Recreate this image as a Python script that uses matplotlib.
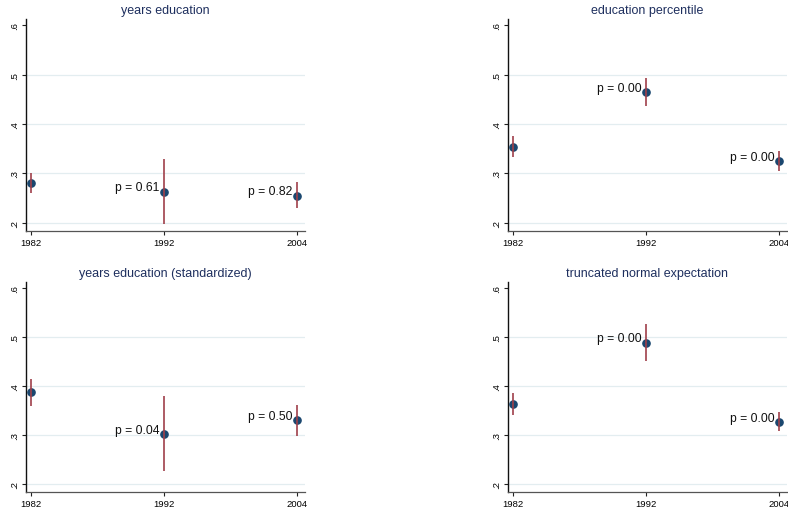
import matplotlib
matplotlib.use('Agg')
import matplotlib.pyplot as plt

plt.rcParams['font.family'] = ['Liberation Sans', 'DejaVu Sans']

years = ['1982', '1992', '2004']

titles = ['years education', 'education percentile',
          'years education (standardized)', 'truncated normal expectation']

# point estimates and confidence bounds per panel
est_yrs = [0.281, 0.263, 0.255]
lo_yrs = [0.261, 0.198, 0.229]
hi_yrs = [0.300, 0.329, 0.282]

est_pct = [0.354, 0.464, 0.325]
lo_pct = [0.333, 0.436, 0.305]
hi_pct = [0.375, 0.493, 0.345]

est_std = [0.387, 0.302, 0.330]
lo_std = [0.359, 0.226, 0.298]
hi_std = [0.414, 0.379, 0.362]

est_tne = [0.363, 0.489, 0.327]
lo_tne = [0.340, 0.452, 0.307]
hi_tne = [0.386, 0.526, 0.346]

# p-values shown next to 1992 and 2004
pvals_yrs = ['p = 0.61', 'p = 0.82']
pvals_pct = ['p = 0.00', 'p = 0.00']
pvals_std = ['p = 0.04', 'p = 0.50']
pvals_tne = ['p = 0.00', 'p = 0.00']

yticks = [0.2, 0.3, 0.4, 0.5, 0.6]
ytick_labels = ['.2', '.3', '.4', '.5', '.6']

panels = [
    (est_yrs, lo_yrs, hi_yrs, pvals_yrs),
    (est_pct, lo_pct, hi_pct, pvals_pct),
    (est_std, lo_std, hi_std, pvals_std),
    (est_tne, lo_tne, hi_tne, pvals_tne),
]

W, H = 788, 510
fig = plt.figure(figsize=(W / 100, H / 100), dpi=100)
fig.patch.set_facecolor('white')

# axes boxes in pixels: left, top, right, bottom
boxes = [
    (26, 20, 305, 232),
    (508, 20, 787, 232),
    (26, 283, 305, 493),
    (508, 283, 787, 493),
]

navy = '#1a476f'
maroon = '#a0404a'

for i, (est, lo, hi, pv) in enumerate(panels):
    l, t, r, b = boxes[i]
    ax = fig.add_axes([l / W, (H - b) / H, (r - l) / W, (b - t) / H])
    x = list(range(len(years)))

    for g in [0.2, 0.3, 0.4, 0.5]:
        ax.axhline(g, color='#e3edf0', linewidth=0.9, zorder=0)

    ax.plot(x, est, 'o', color=navy, markersize=5.2, zorder=3)
    ax.vlines(x, lo, hi, color=maroon, linewidth=1.2, zorder=4)

    for j, txt in enumerate(pv):
        ax.annotate(txt, (x[j + 1], est[j + 1]), xytext=(-3, 3),
                    textcoords='offset points', ha='right', va='center',
                    fontsize=8.7, color='#111111')

    ax.set_xlim(-0.038, 2.063)
    ax.set_ylim(0.183, 0.613)
    ax.set_xticks(x)
    ax.set_xticklabels(years, fontsize=6.8)
    ax.set_yticks(yticks)
    ax.set_yticklabels(ytick_labels, fontsize=6.8, rotation=90, va='center')
    ax.tick_params(axis='both', length=3, width=0.8, pad=2, color='#222222')

    ax.spines['top'].set_visible(False)
    ax.spines['right'].set_visible(False)
    ax.spines['left'].set_color('#111111')
    ax.spines['bottom'].set_color('#555555')
    ax.spines['left'].set_linewidth(1.0)
    ax.spines['bottom'].set_linewidth(0.9)

    ax.set_title(titles[i], fontsize=9, color='#1e2f5e', pad=4)

fig.savefig('out.png', dpi=100, facecolor='white')
